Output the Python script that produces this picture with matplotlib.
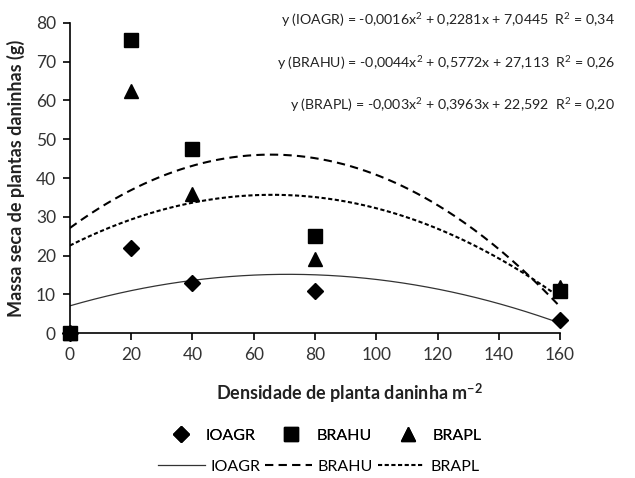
import matplotlib
matplotlib.use("Agg")
import matplotlib.pyplot as plt
import numpy as np

plt.rcParams['font.family'] = ['Lato', 'DejaVu Sans']
plt.rcParams['mathtext.fontset'] = 'custom'
plt.rcParams['mathtext.rm'] = 'Lato'
plt.rcParams['mathtext.it'] = 'Lato:italic'
plt.rcParams['mathtext.bf'] = 'Lato:bold'

density = [0, 20, 40, 80, 160]
ioagr = [0, 22, 13, 11, 3.5]
brahu = [0, 75.5, 47.5, 25, 11]
brapl = [0, 62.5, 36, 19, 12]

# fitted quadratic coefficients (a, b, c) from the chart equations
coef_ioagr = [-0.0016, 0.2281, 7.0445]
coef_brahu = [-0.0044, 0.5772, 27.113]
coef_brapl = [-0.003, 0.3963, 22.592]

equations = [
    "y (IOAGR) = -0,0016x$^{\\mathregular{2}}$ + 0,2281x + 7,0445  R$^{\\mathregular{2}}$ = 0,34",
    "y (BRAHU) = -0,0044x$^{\\mathregular{2}}$ + 0,5772x + 27,113  R$^{\\mathregular{2}}$ = 0,26",
    "y (BRAPL) = -0,003x$^{\\mathregular{2}}$ + 0,3963x + 22,592  R$^{\\mathregular{2}}$ = 0,20",
]
series_names = ["IOAGR", "BRAHU", "BRAPL"]

fig = plt.figure(figsize=(6.35, 4.78), dpi=100)
ax = fig.add_axes([0.110, 0.303, 0.772, 0.649])

xs = np.linspace(0, 160, 200)
l1, = ax.plot(xs, np.polyval(coef_ioagr, xs), color='#333333', lw=0.9, ls='-')
l2, = ax.plot(xs, np.polyval(coef_brahu, xs), color='black', lw=1.5, ls=(0, (4, 2.5)))
l3, = ax.plot(xs, np.polyval(coef_brapl, xs), color='black', lw=1.5, ls=(0, (2.0, 1.2)))

m1, = ax.plot(density, ioagr, ls='none', marker='D', ms=8, color='black')
m2, = ax.plot(density, brahu, ls='none', marker='s', ms=10, color='black')
m3, = ax.plot(density, brapl, ls='none', marker='^', ms=10, color='black')
for art in [m1, m2, m3]:
    art.set_clip_on(False)

ax.set_xlim(0, 160)
ax.set_ylim(0, 80)
ax.set_xticks(range(0, 161, 20))
ax.set_yticks(range(0, 81, 10))
for s in ['top', 'right']:
    ax.spines[s].set_visible(False)
for s in ['left', 'bottom']:
    ax.spines[s].set_linewidth(1.2)
ax.tick_params(direction='out', length=5, width=1.2, labelsize=12.5, colors='black', pad=5)
for lab in ax.get_xticklabels() + ax.get_yticklabels():
    lab.set_color('#333333')

ax.set_xlabel("Densidade de planta daninha m$^{\\mathregular{-2}}$", fontsize=13, fontweight='bold', color='#222222')
ax.xaxis.set_label_coords(0.57, -0.155)
ax.set_ylabel("Massa seca de plantas daninhas (g)", fontsize=13, fontweight='bold', color='#222222', labelpad=8)

ys = [0.958, 0.868, 0.780]
for t, y in zip(equations, ys):
    fig.text(0.969, y, t, ha='right', va='center', fontsize=10.2, color='#222222')

leg1 = fig.legend([m1, m2, m3], series_names, ncol=3, loc='center',
                  bbox_to_anchor=(0.512, 0.088), frameon=False, fontsize=11.5,
                  handlelength=1.5, columnspacing=1.5, handletextpad=0.8)
leg2 = fig.legend([l1, l2, l3], series_names, ncol=3, loc='center',
                  bbox_to_anchor=(0.502, 0.024), frameon=False, fontsize=11.5,
                  handlelength=2.9, columnspacing=0.3, handletextpad=0.37,
                  borderaxespad=0.1, borderpad=0.1)
fig.add_artist(leg1)

fig.savefig("out.png", dpi=100)
